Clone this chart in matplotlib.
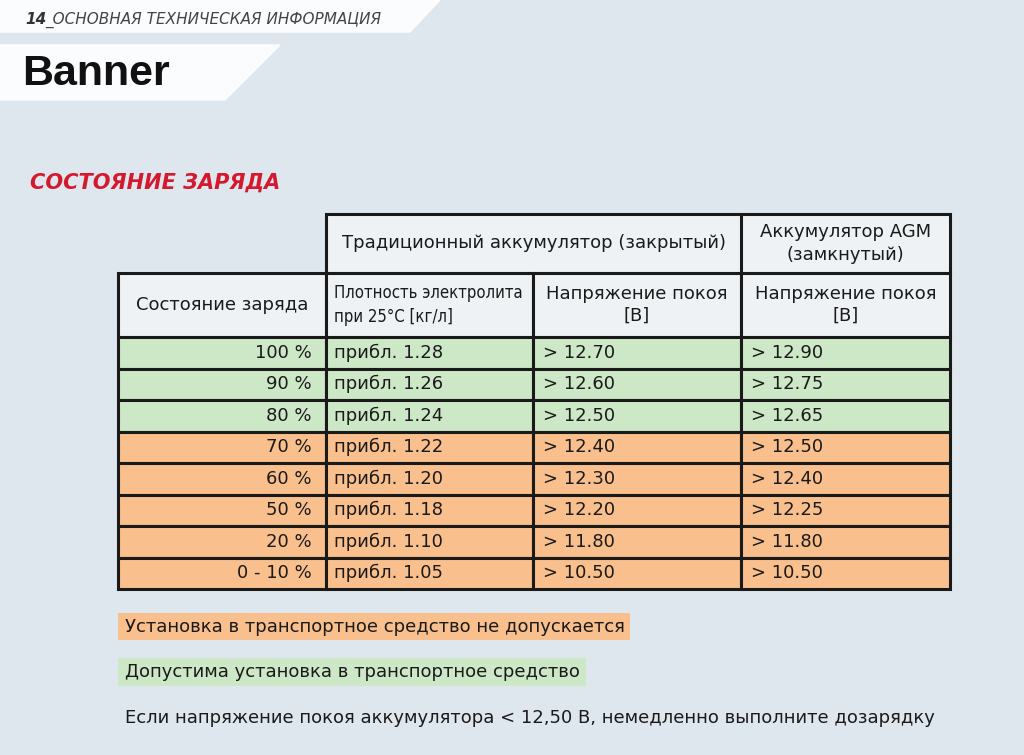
import matplotlib
matplotlib.use("Agg")
import matplotlib.pyplot as plt
from matplotlib.patches import Rectangle, Polygon

# data
states = ["100 %", "90 %", "80 %", "70 %", "60 %", "50 %", "20 %", "0 - 10 %"]
density = [1.28, 1.26, 1.24, 1.22, 1.20, 1.18, 1.10, 1.05]
volt_std = [12.70, 12.60, 12.50, 12.40, 12.30, 12.20, 11.80, 10.50]
volt_agm = [12.90, 12.75, 12.65, 12.50, 12.40, 12.25, 11.80, 10.50]
allowed = [True, True, True, False, False, False, False, False]

GREEN = "#cde8c6"
ORANGE = "#f9bf8c"
RED = "#d4182e"

fig = plt.figure(figsize=(10.24, 7.55), dpi=100)
ax = fig.add_axes([0, 0, 1, 1])
ax.set_xlim(0, 1024)
ax.set_ylim(755, 0)
ax.axis("off")
fig.patch.set_facecolor("#dfe7ee")

# header band
ax.add_patch(Polygon([[0, 0], [440, 0], [410, 32], [0, 32]], color="white", alpha=0.9))
ax.add_patch(Polygon([[0, 45], [280, 45], [225, 100], [0, 100]], color="white", alpha=0.9))
ax.text(25, 20, "14", fontsize=11, fontweight="bold", style="italic", va="center", color="#333333")
ax.text(45, 20, "_ОСНОВНАЯ ТЕХНИЧЕСКАЯ ИНФОРМАЦИЯ", fontsize=11, style="italic",
        va="center", color="#444444")
ax.text(22, 74, "Banner", fontsize=31, fontweight="bold", family="Liberation Sans",
        va="center", color="#111111")
ax.text(30, 183, "СОСТОЯНИЕ ЗАРЯДА", fontsize=15, fontweight="bold", style="italic",
        va="center", color=RED)

cols = [118, 326, 533, 741, 950]
top, h1, h2 = 214, 273, 337
row_h = (589 - h2) / len(states)
lw = 2.2
fs = 13
tc = "#1a1a1a"

# header cells
hdr = "#eef2f5"
ax.add_patch(Rectangle((cols[1], top), cols[4] - cols[1], h1 - top, fc=hdr, ec="#1a1a1a", lw=lw))
ax.plot([cols[3], cols[3]], [top, h1], color="#1a1a1a", lw=lw)
for i in range(4):
    ax.add_patch(Rectangle((cols[i], h1), cols[i + 1] - cols[i], h2 - h1, fc=hdr, ec="#1a1a1a", lw=lw))
ax.text((cols[1] + cols[3]) / 2, (top + h1) / 2, "Традиционный аккумулятор (закрытый)",
        fontsize=fs, ha="center", va="center", color=tc)
ax.text((cols[3] + cols[4]) / 2, (top + h1) / 2, "Аккумулятор AGM\n(замкнутый)",
        fontsize=fs, ha="center", va="center", color=tc, linespacing=1.3)
ax.text((cols[0] + cols[1]) / 2, (h1 + h2) / 2, "Состояние заряда",
        fontsize=fs, ha="center", va="center", color=tc)
ax.text(cols[1] + 8, (h1 + h2) / 2, "Плотность электролита\nпри 25°C [кг/л]",
        fontsize=12, fontstretch="condensed", family="DejaVu Sans",
        ha="left", va="center", color=tc, linespacing=1.4)
for c in (2, 3):
    ax.text((cols[c] + cols[c + 1]) / 2, (h1 + h2) / 2, "Напряжение покоя\n[В]",
            fontsize=fs, ha="center", va="center", color=tc, linespacing=1.3)

# data rows
for r, st in enumerate(states):
    y = h2 + r * row_h
    color = GREEN if allowed[r] else ORANGE
    for i in range(4):
        ax.add_patch(Rectangle((cols[i], y), cols[i + 1] - cols[i], row_h, fc=color, ec="#1a1a1a", lw=lw))
    yc = y + row_h / 2
    ax.text(cols[1] - 14, yc, st, fontsize=fs, ha="right", va="center", color=tc)
    ax.text(cols[1] + 8, yc, f"прибл. {density[r]:.2f}", fontsize=fs, va="center", color=tc)
    ax.text(cols[2] + 10, yc, f"> {volt_std[r]:.2f}", fontsize=fs, va="center", color=tc)
    ax.text(cols[3] + 10, yc, f"> {volt_agm[r]:.2f}", fontsize=fs, va="center", color=tc)

# legend
ax.add_patch(Rectangle((118, 613), 512, 27, fc=ORANGE, ec="none"))
ax.text(125, 626.5, "Установка в транспортное средство не допускается", fontsize=fs, va="center", color=tc)
ax.add_patch(Rectangle((118, 658), 468, 28, fc=GREEN, ec="none"))
ax.text(125, 672, "Допустима установка в транспортное средство", fontsize=fs, va="center", color=tc)
ax.text(125, 718, "Если напряжение покоя аккумулятора < 12,50 В, немедленно выполните дозарядку",
        fontsize=fs, va="center", color=tc)

fig.savefig("out.png", dpi=100)
